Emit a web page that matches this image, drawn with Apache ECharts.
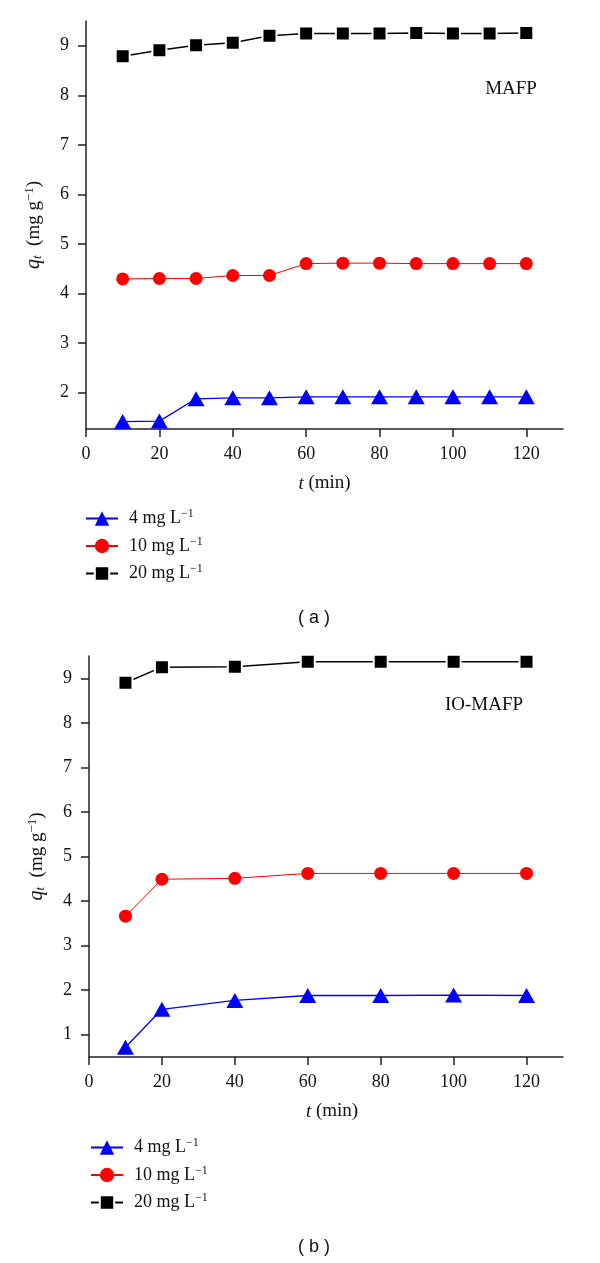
<!DOCTYPE html>
<html><head><meta charset="utf-8">
<script src="https://cdn.jsdelivr.net/npm/echarts@6/dist/echarts.min.js"></script>
<style>html,body{margin:0;padding:0;background:#fff}#c{width:600px;height:1263px}</style>
</head><body><div id="c"></div>
<script>
const timeA = [10,20,30,40,50,60,70,80,90,100,110,120];
const a4  = [1.41,1.42,1.87,1.89,1.89,1.91,1.91,1.91,1.91,1.91,1.91,1.91];
const a10 = [4.29,4.30,4.30,4.36,4.36,4.60,4.61,4.61,4.60,4.60,4.60,4.60];
const a20 = [8.79,8.91,9.01,9.06,9.20,9.25,9.25,9.25,9.26,9.25,9.25,9.26];
const timeB = [10,20,40,60,80,100,120];
const b4  = [0.72,1.57,1.77,1.88,1.88,1.89,1.88];
const b10 = [3.66,4.49,4.51,4.62,4.62,4.62,4.62];
const b20 = [8.90,9.25,9.26,9.37,9.37,9.37,9.37];
const xTicks = [0,20,40,60,80,100,120];
const yTicksA = [2,3,4,5,6,7,8,9];
const yTicksB = [1,2,3,4,5,6,7,8,9];
const legendLabels = ['4', '10', '20'];
const panelNames = ['MAFP', 'IO-MAFP'];
const captions = ['( a )', '( b )'];

const serif = 'Liberation Serif';
const axisColor = '#222';
const txt = '#111';
const pair = (xs, ys) => xs.map((x, i) => [x, ys[i]]);

function xAxis(gi) {
  return {
    type: 'value', gridIndex: gi, min: 0, max: 130,
    axisLine: {show: true, lineStyle: {color: axisColor, width: 1.5}},
    axisTick: {show: true, length: 8, customValues: xTicks, lineStyle: {color: axisColor, width: 1.5}},
    axisLabel: {customValues: xTicks, margin: 16, fontFamily: serif, fontSize: 18, color: txt},
    splitLine: {show: false},
    name: '{i|t} (min)', nameLocation: 'middle', nameGap: 45,
    nameTextStyle: {fontFamily: serif, fontSize: 19, color: txt, padding: gi === 1 ? [0,0,0,12] : 0,
      rich: {i: {fontFamily: serif, fontStyle: 'italic', fontSize: 19, color: txt}}}
  };
}
function yAxis(gi, min, max, ticks) {
  return {
    type: 'value', gridIndex: gi, min: min, max: max,
    axisLine: {show: true, lineStyle: {color: axisColor, width: 1.5}},
    axisTick: {show: true, length: 8, customValues: ticks, lineStyle: {color: axisColor, width: 1.5}},
    axisLabel: {customValues: ticks, margin: 17, fontFamily: serif, fontSize: 18, color: txt},
    splitLine: {show: false},
    name: '{i|q}{sub|t}  (mg g{sup|−1})', nameLocation: 'middle', nameGap: 41, nameRotate: 90,
    nameTextStyle: {fontFamily: serif, fontSize: 19, color: txt,
      rich: {
        i: {fontFamily: serif, fontStyle: 'italic', fontSize: 20, color: txt},
        sub: {fontFamily: serif, fontStyle: 'italic', fontSize: 13, color: txt, padding: [8,0,0,0]},
        sup: {fontFamily: serif, fontSize: 13, color: txt, padding: [0,0,9,0]}
      }}
  };
}
const specs = [
  {c: '#0000ff', sym: 'triangle', size: [17,15], w: 1.3, border: 0},
  {c: '#ff0000', sym: 'circle', size: 13, w: 1, border: 0},
  {c: '#000000', sym: 'rect', size: 14, w: 1.5, border: 2}
];
function mk(name, gi, xs, ys, s) {
  return {
    name: name, type: 'line', xAxisIndex: gi, yAxisIndex: gi,
    data: pair(xs, ys), symbol: s.sym, symbolSize: s.size,
    lineStyle: {color: s.c, width: s.w},
    itemStyle: {color: s.c, borderColor: '#fff', borderWidth: s.border},
    animation: false
  };
}
const labelMap = {};
const series = [];
[[a4,a10,a20],[b4,b10,b20]].forEach((set, gi) => {
  const xs = gi === 0 ? timeA : timeB;
  set.forEach((ys, k) => {
    const nm = (gi === 0 ? 'a' : 'b') + legendLabels[k];
    labelMap[nm] = legendLabels[k];
    series.push(mk(nm, gi, xs, ys, specs[k]));
  });
});
function legend(gi, left, top) {
  const p = gi === 0 ? 'a' : 'b';
  return {
    orient: 'vertical', left: left, top: top, padding: 0, itemWidth: 32, itemHeight: 18, itemGap: 8,
    data: legendLabels.map(l => p + l), selectedMode: false,
    formatter: n => '{t|' + labelMap[n] + ' mg L}{sup|−1}',
    textStyle: {fontFamily: serif, fontSize: 18, color: txt,
      rich: {
        t: {fontFamily: serif, fontSize: 18, color: txt, padding: [0,0,0,6]},
        sup: {fontFamily: serif, fontSize: 12, color: txt, padding: [0,0,9,0]}
      }}
  };
}
const chart = echarts.init(document.getElementById('c'), null, {renderer: 'canvas'});
chart.setOption({
  backgroundColor: '#fff',
  animation: false,
  grid: [
    {left: 86, top: 21, width: 477, height: 408},
    {left: 89, top: 656, width: 474, height: 401}
  ],
  xAxis: [xAxis(0), xAxis(1)],
  yAxis: [yAxis(0, 1.26, 9.5, yTicksA), yAxis(1, 0.5, 9.5, yTicksB)],
  legend: [legend(0, 85, 508), legend(1, 90, 1137)],
  series: series,
  graphic: [
    {type: 'text', style: {text: panelNames[0], x: 511, y: 89, align: 'center', verticalAlign: 'middle', fontFamily: serif, fontSize: 19, fill: txt}},
    {type: 'text', style: {text: panelNames[1], x: 484, y: 705, align: 'center', verticalAlign: 'middle', fontFamily: serif, fontSize: 19, fill: txt}},
    {type: 'text', style: {text: captions[0], x: 314, y: 618, align: 'center', verticalAlign: 'middle', fontFamily: 'Liberation Sans', fontSize: 18, fill: txt}},
    {type: 'text', style: {text: captions[1], x: 314, y: 1247, align: 'center', verticalAlign: 'middle', fontFamily: 'Liberation Sans', fontSize: 18, fill: txt}}
  ]
});
</script></body></html>
